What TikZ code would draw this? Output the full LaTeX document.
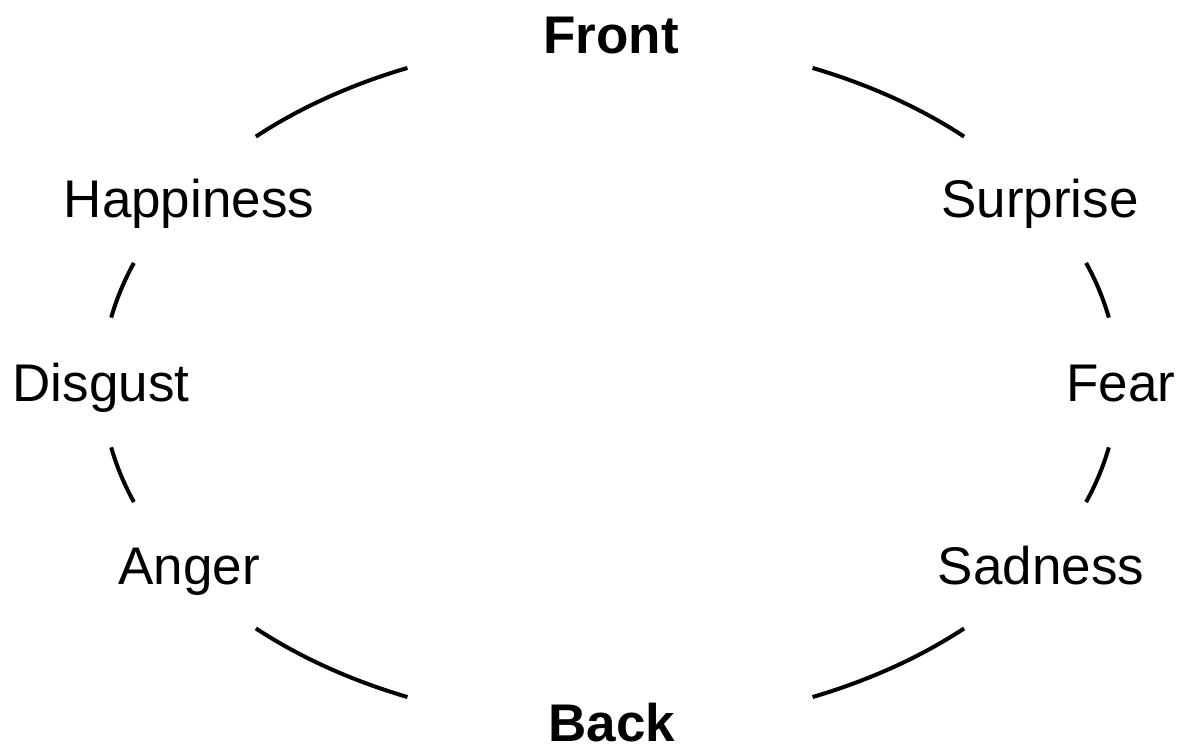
\documentclass[tikz,border=0pt]{standalone}
\usepackage{fontspec}
\setmainfont{Liberation Sans}
\usetikzlibrary{calc}
\begin{document}
\begin{tikzpicture}[x=1pt,y=1pt,
  emotion/.style={anchor=base,inner sep=0pt,font=\fontsize{53}{63}\selectfont},
  side/.style={anchor=base,inner sep=0pt,font=\fontsize{53}{63}\selectfont\bfseries},
  ring/.style={line width=4pt,line cap=butt}]
\useasboundingbox (0,0) rectangle (1177,746);
\coordinate (O) at (610,363.5);

% labels round the ring
\node[side]    (front)     at (611,692) {Front};
\node[side]    (back)      at (612,4)   {Back};
\node[emotion] (happiness) at (189,528) {Happiness};
\node[emotion] (surprise)  at (1040,528) {Surprise};
\node[emotion] (disgust)   at (101,344) {Disgust};
\node[emotion] (fear)      at (1121,344) {Fear};
\node[emotion] (anger)     at (189,161) {Anger};
\node[emotion] (sadness)   at (1041,161) {Sadness};

% start points of the ring pieces
\foreach \n/\a in {tl/113.5, hl/159.6, dl/190.9, bl/225.8,
                   tr/45.8, hr/10.9, dr/-20.4, br/-66.5}
  \coordinate (s-\n) at ($(O)+(\a:508 and 343)$);

% elliptic pieces between the labels
\draw[ring] (s-tl) arc[start angle=113.5,end angle=134.2,x radius=508,y radius=343];
\draw[ring] (s-hl) arc[start angle=159.6,end angle=169.1,x radius=508,y radius=343];
\draw[ring] (s-dl) arc[start angle=190.9,end angle=200.4,x radius=508,y radius=343];
\draw[ring] (s-bl) arc[start angle=225.8,end angle=246.5,x radius=508,y radius=343];
\draw[ring] (s-tr) arc[start angle=45.8,end angle=66.5,x radius=508,y radius=343];
\draw[ring] (s-hr) arc[start angle=10.9,end angle=20.4,x radius=508,y radius=343];
\draw[ring] (s-dr) arc[start angle=-20.4,end angle=-10.9,x radius=508,y radius=343];
\draw[ring] (s-br) arc[start angle=-66.5,end angle=-45.8,x radius=508,y radius=343];
\end{tikzpicture}
\end{document}
